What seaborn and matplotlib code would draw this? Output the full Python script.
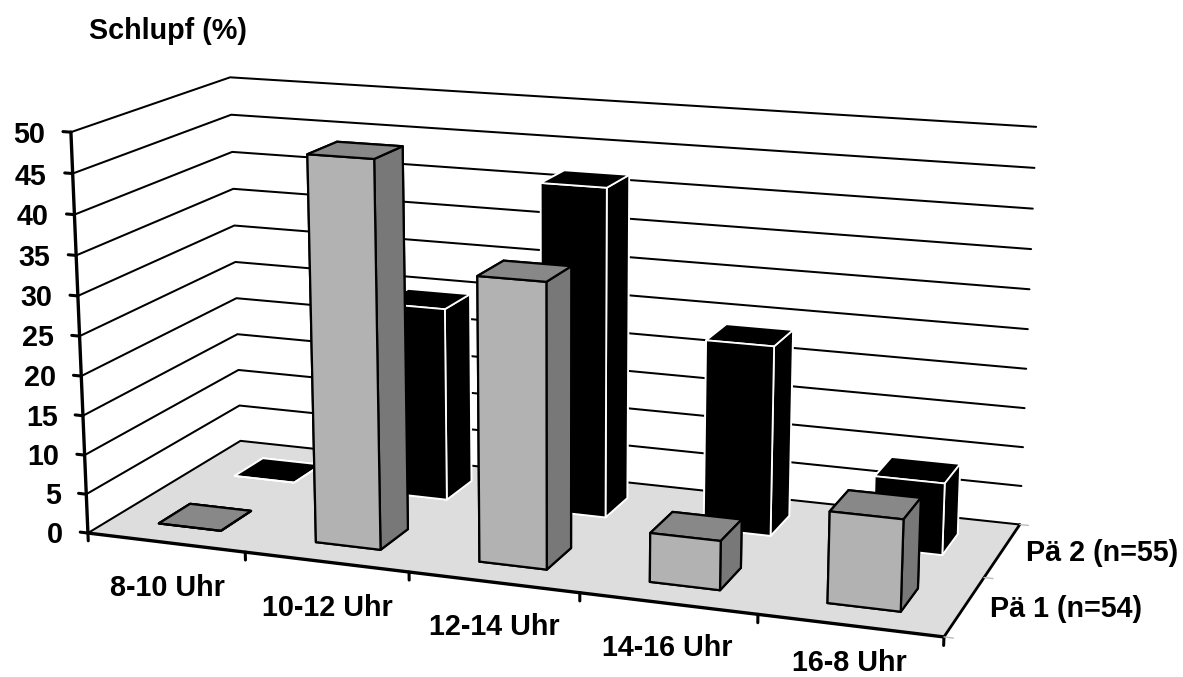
# Schlupf (%) by time of day, 3D columns for two groups
import matplotlib
matplotlib.use('Agg')
import matplotlib.pyplot as plt
import seaborn as sns
from mpl_toolkits.mplot3d import proj3d
from mpl_toolkits.mplot3d.art3d import Poly3DCollection

categories = ["8-10 Uhr", "10-12 Uhr", "12-14 Uhr", "14-16 Uhr", "16-8 Uhr"]
series_names = ["Pä 1 (n=54)", "Pä 2 (n=55)"]
pae1_values = [0, 48, 35, 6, 11]
pae2_values = [0, 25, 42, 24, 9]
z_ticks = [0, 5, 10, 15, 20, 25, 30, 35, 40, 45, 50]
y_title = "Schlupf (%)"

sns.set_theme(style="white")
plt.rcParams['font.family'] = ['Liberation Sans', 'DejaVu Sans']
plt.rcParams['font.weight'] = 'bold'

W, H = 1183, 677
FONT = 20.7
n_cat = len(categories)
z_top = z_ticks[-1]

fig = plt.figure(figsize=(W / 100, H / 100), dpi=100, facecolor="white")
ax = fig.add_subplot(projection='3d')

# camera numbers fitted against the wall and floor corners
S, cx, cy = 1004.0, 542.2, 346.2
ax.set_position([(cx - S / 2) / W, (H - cy - S / 2) / H, S / W, S / H])
ax.view_init(elev=14.357, azim=-69.931, roll=0.03)
ax.set_proj_type('persp', focal_length=0.536)
ax.set_box_aspect((1, 0.3969, 0.4673))
ax.set_axis_off()
ax.computed_zorder = False
ax.set_xlim(0, n_cat, view_margin=0)
ax.set_ylim(0, 2, view_margin=0)
ax.set_zlim(0, z_top, view_margin=0)

# floor
floor = Poly3DCollection([[(0, 0, 0), (n_cat, 0, 0), (n_cat, 2, 0), (0, 2, 0)]],
                         facecolor="#dddddd", edgecolor="none", zorder=1)
ax.add_collection3d(floor)

# wall lines
for z in z_ticks:
    ax.plot([0, 0, n_cat], [0, 2, 2], [z, z, z], color="black", lw=1.45, zorder=2)

# axes and ticks
ax.plot([0, 0], [0, 0], [0, z_top], color="black", lw=2.4, zorder=2)
ax.plot([0, n_cat], [0, 0], [0, 0], color="black", lw=2.4, zorder=2)
ax.plot([n_cat, n_cat], [0, 2], [0, 0], color="black", lw=2.0, zorder=2)
for z in z_ticks:
    ax.plot([-0.05, 0], [0, 0], [z, z], color="black", lw=2.2, zorder=2)
for i in range(n_cat + 1):
    ax.plot([i, i], [0, 0], [0, -1.0], color="black", lw=2.2, zorder=2)
for k in range(3):
    ax.plot([n_cat, n_cat + 0.05], [k, k], [0, 0], color="#bbbbbb", lw=1.0, zorder=2)

# columns, back row first, left to right
grey_faces = ["#888888", "#888888", "#b2b2b2", "#b2b2b2", "#787878", "#787878"]
black_faces = ["black"] * 6
order = 3
for row, values, faces, edge, lw in [(1, pae2_values, black_faces, "white", 1.3),
                                     (0, pae1_values, grey_faces, "black", 1.6)]:
    for i, v in enumerate(values):
        ax.bar3d(i + 0.3, row + 0.3, 0, 0.4, 0.4, v, color=faces, shade=False,
                 edgecolor=edge, linewidth=lw, zorder=order)
        order += 1

ax.set_xlim(0, n_cat, view_margin=0)
ax.set_ylim(0, 2, view_margin=0)
ax.set_zlim(0, z_top, view_margin=0)

# labels go on as plain 2D text at the projected spot
M = ax.get_proj()

def label(x, y, z, s, ha):
    px, py, _ = proj3d.proj_transform(x, y, z, M)
    ax.text2D(px, py, s, transform=ax.transData, ha=ha, va='center', fontsize=FONT,
              fontweight='bold', color="black", zorder=20)

for z in z_ticks:
    label(-0.165, 0, z - 0.6, str(z), 'right')
# last one sits a bit higher so it stays inside the picture
label_drop = [-5.9, -5.75, -5.6, -5.45, -4.45]
for i, name in enumerate(categories):
    label(i + 0.5, 0, label_drop[i], name, 'center')
for k, name in enumerate(series_names):
    label(n_cat + 0.135, k + 0.5, 0, name, 'left')
fig.text(89 / W, 1 - 31 / H, y_title, ha='left', va='center', fontsize=FONT,
         fontweight='bold', color="black")

plt.savefig("out.png", dpi=100)
plt.close()
